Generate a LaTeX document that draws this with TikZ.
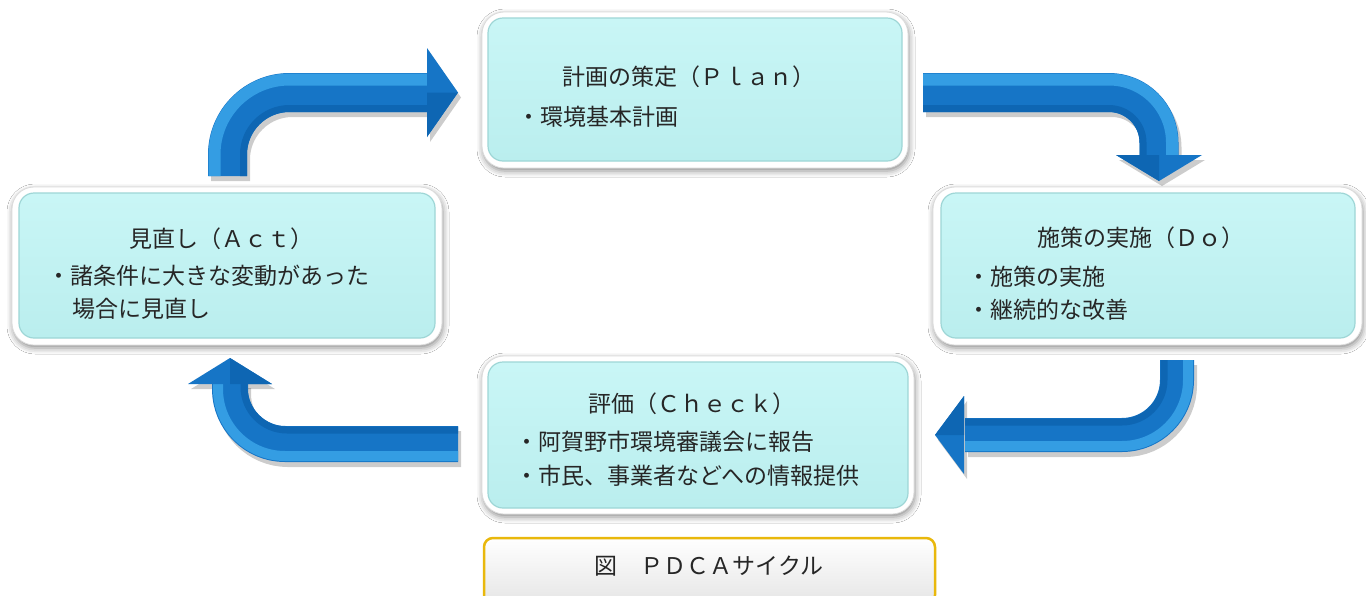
\documentclass[tikz,border=0pt]{standalone}
\usepackage{fontspec}
\newfontfamily\jp{Noto Sans CJK JP}
\usetikzlibrary{shadows.blur}
\definecolor{abase}{HTML}{1675C6}
\definecolor{alight}{HTML}{349DE3}
\definecolor{adark}{HTML}{0E66B3}
\definecolor{cyantop}{HTML}{C9F6F6}
\definecolor{cyanbot}{HTML}{BAEEEE}
\definecolor{cyanedge}{HTML}{9ED6D6}
\definecolor{gold}{HTML}{E9B80C}
\tikzset{
  frame/.style={fill=white, draw=black!14, line width=0.8, rounded corners=22,
    blur shadow={shadow xshift=1pt, shadow yshift=-3pt, shadow blur radius=6pt, shadow opacity=45}},
  inbox/.style={rounded corners=15, top color=cyantop, bottom color=cyanbot, draw=cyanedge, line width=1.2},
  txt/.style={font=\jp\fontsize{23}{28}\selectfont, inner sep=0pt, text=black!85},
  shaft/.style={draw=abase, line cap=butt, line join=round},
  strip/.style={draw=alight, line width=12, line cap=butt},
  shade/.style={opacity=0.2},
}
\begin{document}
\begin{tikzpicture}[x=1pt,y=-1pt]
\useasboundingbox (0,0) rectangle (1366,595);
\fill[white] (0,0) rectangle (1366,595);

% ---------- boxes ----------
\path[frame] (482,12) rectangle (908,168);
\path[inbox] (488,18) rectangle (902,161);
\path[frame] (933,187) rectangle (1362,345);
\path[inbox] (941,193) rectangle (1355,338);
\path[frame] (482,356) rectangle (914,514);
\path[inbox] (488,362) rectangle (908,508);
\path[frame] (12,187) rectangle (442,345);
\path[inbox] (19,193) rectangle (435,338);

% caption box
\path[draw=gold, line width=2.5, rounded corners=9, top color=white, bottom color=black!10]
  (484,538) rectangle (935,604);

% ---------- texts ----------
\node[txt] (plan) at (689,77) {計画の策定（Ｐｌａｎ）};
\node[txt, anchor=west] (plan1) at (517,117) {・環境基本計画};

\node[txt] (do) at (1141,238) {施策の実施（Ｄｏ）};
\node[txt, anchor=west] (do1) at (967,277) {・施策の実施};
\node[txt, anchor=west] (do2) at (967,310) {・継続的な改善};

\node[txt] (check) at (692,404) {評価（Ｃｈｅｃｋ）};
\node[txt, anchor=west] (check1) at (515,442) {・阿賀野市環境審議会に報告};
\node[txt, anchor=west] (check2) at (515,476) {・市民、事業者などへの情報提供};

\node[txt] (act) at (221,239) {見直し（Ａｃｔ）};
\node[txt, anchor=west] (act1) at (47,276) {・諸条件に大きな変動があった};
\node[txt, anchor=west] (act2) at (72,309) {場合に見直し};

\node[txt] (caption) at (709,566) {図　ＰＤＣＡサイクル};

% ---------- arrow shadows ----------
\begin{scope}[shift={(3,5)}, shade]
  \draw[black, line width=39, rounded corners=62] (227.5,176) -- (227.5,92.5) -- (429,92.5);
  \fill[black] (427,48) -- (458,92.5) -- (427,137) -- cycle;
  \draw[black, line width=39, rounded corners=50] (923,92.5) -- (1159,92.5) -- (1159,157);
  \fill[black] (1116,155) -- (1202,155) -- (1159,181) -- cycle;
  \draw[black, line width=34, rounded corners=55] (1177,360) -- (1177,435) -- (965,435);
  \fill[black] (964,396) -- (935,435) -- (964,474) -- cycle;
  \draw[black, line width=36, rounded corners=55] (458,444) -- (230,444) -- (230,383);
  \fill[black] (188,384) -- (230,358) -- (272,384) -- cycle;
\end{scope}

% ---------- Act -> Plan arrow (top left) ----------
\coordinate (tl0) at (227.5,176);
\coordinate (tl1) at (227.5,92.5);
\coordinate (tl2) at (429,92.5);
\draw[shaft, line width=39, rounded corners=62] (tl0) -- (tl1) -- (tl2);
\draw[strip, rounded corners=75] (214.5,176) -- (214.5,79.5) -- (429,79.5);
\draw[adark, line width=7, rounded corners=46] (243.5,176) -- (243.5,108.5) -- (429,108.5);
\fill[abase] (427,48) -- (458,92.5) -- (427,137) -- cycle;
\fill[adark] (427,92.5) -- (458,92.5) -- (427,137) -- cycle;

% ---------- Plan -> Do arrow (top right) ----------
\coordinate (tr0) at (923,92.5);
\coordinate (tr1) at (1159,92.5);
\coordinate (tr2) at (1159,157);
\draw[shaft, line width=39, rounded corners=50] (tr0) -- (tr1) -- (tr2);
\draw[strip, rounded corners=63] (923,79.5) -- (1172,79.5) -- (1172,157);
\draw[adark, line width=7, rounded corners=34] (923,108.5) -- (1143,108.5) -- (1143,157);
\fill[abase] (1116,155) -- (1202,155) -- (1159,181) -- cycle;
\fill[adark] (1116,155) -- (1159,155) -- (1159,181) -- cycle;

% ---------- Do -> Check arrow (bottom right) ----------
\coordinate (br0) at (1177,360);
\coordinate (br1) at (1177,435);
\coordinate (br2) at (965,435);
\draw[shaft, line width=34, rounded corners=55] (br0) -- (br1) -- (br2);
\draw[strip, line width=10, rounded corners=66] (1188,360) -- (1188,446) -- (965,446);
\draw[adark, line width=7, rounded corners=42] (1164,360) -- (1164,422) -- (965,422);
\fill[abase] (964,396) -- (935,435) -- (964,474) -- cycle;
\fill[adark] (964,396) -- (935,435) -- (964,435) -- cycle;

% ---------- Check -> Act arrow (bottom left) ----------
\coordinate (bl0) at (458,444);
\coordinate (bl1) at (230,444);
\coordinate (bl2) at (230,383);
\draw[shaft, line width=36, rounded corners=55] (bl0) -- (bl1) -- (bl2);
\draw[strip, line width=10, rounded corners=67] (458,456) -- (218,456) -- (218,383);
\draw[adark, line width=7, rounded corners=43] (458,430) -- (244,430) -- (244,383);
\fill[abase] (188,384) -- (230,358) -- (272,384) -- cycle;
\fill[adark] (230,358) -- (272,384) -- (230,384) -- cycle;
\end{tikzpicture}
\end{document}
